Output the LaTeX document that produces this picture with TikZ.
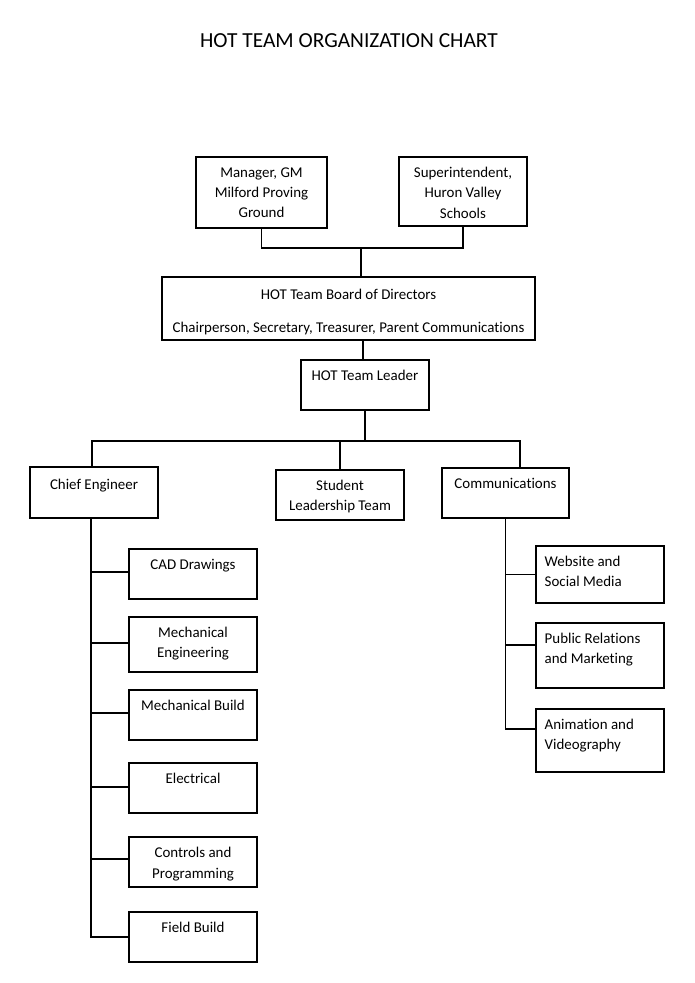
\documentclass[tikz,border=0pt]{standalone}
\usepackage{fontspec}
\setmainfont{Carlito}[Ligatures={NoCommon}]
\tikzset{
  box/.style={draw, line width=0.75pt, minimum width=2.56cm, minimum height=1cm, inner sep=0pt},
  txt/.style={anchor=north, yshift=-6.2pt, align=center, inner sep=0pt, font=\fontsize{8.5}{11.4}\selectfont},
  txtl/.style={txt, anchor=north west, xshift=0.18cm, align=left},
  wire/.style={line width=0.75pt}
}
\begin{document}
\begin{tikzpicture}[x=0.02cm,y=-0.02cm,line cap=rect]
  \useasboundingbox (0,0) rectangle (695,983);
  \node[font=\fontsize{12.2}{14}\selectfont] (title) at (349,41) {HOT TEAM ORGANIZATION CHART};
  % top level
  \node[box, minimum width=2.62cm, minimum height=1.42cm, label={[txt]north:Manager, GM\\Milford Proving\\Ground}] (mgr) at (261.5,192.5) {};
  \node[box, minimum height=1.38cm, label={[txt]north:Superintendent,\\Huron Valley\\Schools}] (supt) at (463,191.5) {};
  \node[box, minimum width=7.46cm, minimum height=1.26cm, label={[txt,yshift=-1pt]north:HOT Team Board of Directors\\[7.4pt]Chairperson, Secretary, Treasurer, Parent Communications}] (board) at (348.5,308.5) {};
  \node[box, label={[txt]north:HOT Team Leader}] (leader) at (365,385) {};
  % second level
  \node[box, minimum height=1.02cm, label={[txt,yshift=-1pt]north:Chief Engineer}] (chief) at (94,492.5) {};
  \node[box, label={[txt]north:Student\\Leadership Team}] (student) at (340,495) {};
  \node[box, minimum width=2.54cm, label={[txt]north:Communications}] (comm) at (505.5,493) {};
  % engineering
  \node[box, label={[txt]north:CAD Drawings}] (cad) at (193,574) {};
  \node[box, minimum height=1.1cm, label={[txt]north:Mechanical\\Engineering}] (meng) at (193,644.5) {};
  \node[box, label={[txt]north:Mechanical Build}] (mbuild) at (193,715) {};
  \node[box, label={[txt]north:Electrical}] (elec) at (193,788) {};
  \node[box, label={[txt]north:Controls and\\Programming}] (ctrl) at (193,862) {};
  \node[box, label={[txt]north:Field Build}] (field) at (193,937) {};
  % communications
  \node[box, minimum height=1.14cm, label={[txtl]north west:Website and\\Social Media}] (web) at (600,574.5) {};
  \node[box, minimum height=1.3cm, label={[txtl]north west:Public Relations\\and Marketing}] (pr) at (600,655.5) {};
  \node[box, minimum height=1.26cm, label={[txtl]north west:Animation and\\Videography}] (anim) at (600,740.5) {};
  % connectors
  \coordinate (join) at (361,248);
  \coordinate (bus) at (364,441);
  \draw[wire] (mgr.south) |- (join) -| (supt.south);
  \draw[wire] (join) -- (join |- board.north);
  \draw[wire] ([xshift=-0.04cm]board.south -| leader.north) -- ([xshift=-0.04cm]leader.north);
  \draw[wire] (leader.south) -- (leader.south |- bus);
  \draw[wire] ([xshift=-0.04cm]chief.north) |- (bus) -| ([xshift=0.29cm]comm.north);
  \draw[wire] (student.north) -- (student.north |- bus);
  \draw[wire] ([xshift=-0.06cm]chief.south) |- (field.west);
  \foreach \n/\dy in {cad/0.04,meng/0.03,mbuild/0.04,elec/0.02,ctrl/0.06}
    \draw[wire] ([yshift=\dy cm]\n.west) -- ([yshift=\dy cm,xshift=-0.06cm]\n.west -| chief.south);
  \draw[wire] (comm.south) |- ([yshift=0.23cm]anim.west);
  \draw[wire] (web.west) -- (web.west -| comm.south);
  \draw[wire] ([yshift=0.21cm]pr.west) -- ([yshift=0.21cm]pr.west -| comm.south);
\end{tikzpicture}
\end{document}
